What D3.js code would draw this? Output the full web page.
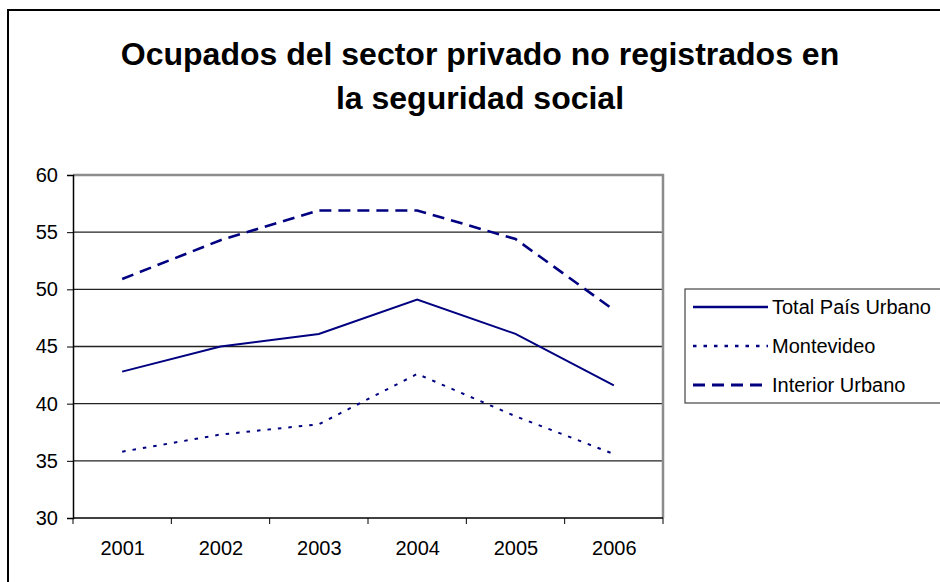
<!DOCTYPE html>
<html>
<head>
<meta charset="utf-8">
<script src="https://cdn.jsdelivr.net/npm/d3@7"></script>
<style>
  body { margin: 0; background: #fff; }
  svg { font-family: "Liberation Sans", Arial, sans-serif; }
</style>
</head>
<body>
<svg width="940" height="582"></svg>
<script>
// data
var years = ["2001", "2002", "2003", "2004", "2005", "2006"];
var totalPais = [42.8, 45.0, 46.1, 49.1, 46.1, 41.6];
var montevideo = [35.8, 37.3, 38.2, 42.6, 38.9, 35.6];
var interior = [50.9, 54.3, 56.9, 56.9, 54.4, 48.2];
var yTicks = [30, 35, 40, 45, 50, 55, 60];
var seriesNames = ["Total País Urbano", "Montevideo", "Interior Urbano"];

var svg = d3.select("svg");

// outer chart frame
svg.append("rect")
  .attr("x", 8).attr("y", 10)
  .attr("width", 1000).attr("height", 700)
  .attr("fill", "none")
  .attr("stroke", "#000")
  .attr("stroke-width", 2);

// title
var title = svg.append("text")
  .attr("text-anchor", "middle")
  .attr("font-weight", "bold")
  .attr("font-size", 32)
  .attr("fill", "#000");
title.append("tspan").attr("x", 480).attr("y", 65).text("Ocupados del sector privado no registrados en");
title.append("tspan").attr("x", 480).attr("y", 109).text("la seguridad social");

var plot = { left: 73, right: 663, top: 175, bottom: 518 };

var x = d3.scaleBand()
  .domain(years)
  .range([plot.left, plot.right]);

var y = d3.scaleLinear()
  .domain([30, 60])
  .range([plot.bottom, plot.top]);

// gridlines
svg.append("g")
  .selectAll("line")
  .data(yTicks.slice(1, -1))
  .join("line")
  .attr("x1", plot.left).attr("x2", plot.right)
  .attr("y1", d => y(d)).attr("y2", d => y(d))
  .attr("stroke", "#222")
  .attr("stroke-width", 1.3);

// plot area border (top & right)
svg.append("path")
  .attr("d", "M" + plot.left + "," + plot.top + "H" + plot.right + "V" + plot.bottom)
  .attr("fill", "none")
  .attr("stroke", "#8c8c8c")
  .attr("stroke-width", 2.5);

// y axis
var yAxis = svg.append("g")
  .attr("transform", "translate(" + plot.left + ",0)")
  .call(d3.axisLeft(y).tickValues(yTicks).tickSize(6).tickPadding(9));
yAxis.select(".domain").attr("stroke", "#000").attr("stroke-width", 1.5);
yAxis.selectAll(".tick line").attr("stroke", "#000");
yAxis.selectAll(".tick text")
  .attr("font-family", "Liberation Sans, Arial, sans-serif")
  .attr("font-size", 20).attr("fill", "#000");

// x axis, labels at band centres
var xAxis = svg.append("g")
  .attr("transform", "translate(0," + plot.bottom + ")")
  .call(d3.axisBottom(d3.scalePoint().domain(years).range([x("2001") + x.bandwidth() / 2, x("2006") + x.bandwidth() / 2]))
    .tickSize(0).tickPadding(23));
xAxis.select(".domain").remove();
xAxis.selectAll(".tick text")
  .attr("font-family", "Liberation Sans, Arial, sans-serif")
  .attr("font-size", 20).attr("fill", "#000");

svg.append("line")
  .attr("x1", plot.left).attr("x2", plot.right)
  .attr("y1", plot.bottom).attr("y2", plot.bottom)
  .attr("stroke", "#000").attr("stroke-width", 1.5);

// x ticks sit on the category boundaries
var edges = years.map(d => x(d)).concat([plot.right]);
svg.append("g")
  .selectAll("line")
  .data(edges)
  .join("line")
  .attr("x1", d => d).attr("x2", d => d)
  .attr("y1", plot.bottom).attr("y2", plot.bottom + 6)
  .attr("stroke", "#000");

// series
var series = [
  { name: seriesNames[0], values: totalPais, dash: null, width: 2 },
  { name: seriesNames[1], values: montevideo, dash: "3.5,7", width: 2 },
  { name: seriesNames[2], values: interior, dash: "12,7", width: 2.6 }
];

var line = d3.line()
  .x((d, i) => x(years[i]) + x.bandwidth() / 2)
  .y(d => y(d));

svg.append("g")
  .selectAll("path")
  .data(series)
  .join("path")
  .attr("d", d => line(d.values))
  .attr("fill", "none")
  .attr("stroke", "#000080")
  .attr("stroke-width", d => d.width)
  .attr("stroke-dasharray", d => d.dash);

// legend
var legend = svg.append("g");
legend.append("rect")
  .attr("x", 685).attr("y", 289)
  .attr("width", 300).attr("height", 114)
  .attr("fill", "#fff")
  .attr("stroke", "#444")
  .attr("stroke-width", 1.2);

var item = legend.selectAll("g.item")
  .data(series)
  .join("g")
  .attr("class", "item")
  .attr("transform", (d, i) => "translate(0," + (307 + i * 39) + ")");

item.append("line")
  .attr("x1", 693).attr("x2", 768)
  .attr("y1", 0).attr("y2", 0)
  .attr("stroke", "#000080")
  .attr("stroke-width", d => d.width + 0.5)
  .attr("stroke-dasharray", d => d.dash);

item.append("text")
  .attr("x", 772)
  .attr("dy", "0.35em")
  .attr("font-size", 20)
  .attr("fill", "#000")
  .text(d => d.name);
</script>
</body>
</html>
